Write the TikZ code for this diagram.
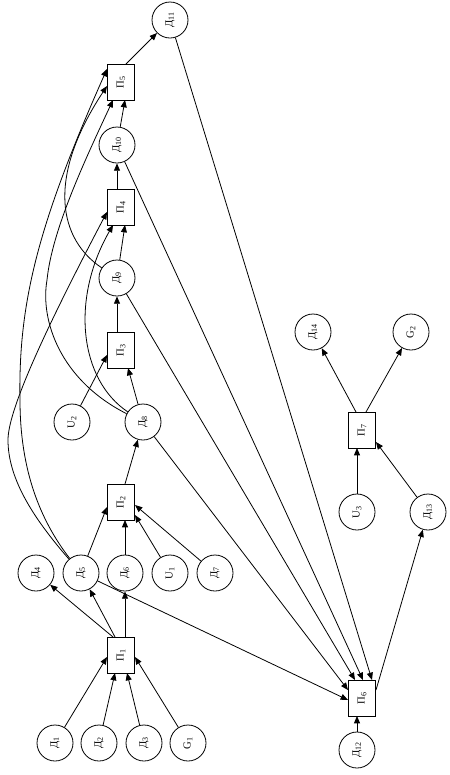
\documentclass[tikz,border=0pt]{standalone}
\usepackage{fontspec}
\setmainfont{Liberation Serif}
\usetikzlibrary{arrows.meta,calc}

\begin{document}
\begin{tikzpicture}[x=0.75pt,y=-0.75pt,>={Triangle[length=5.5pt,width=4.5pt]},line width=0.6pt,
  dnode/.style={circle,draw,minimum size=27pt,inner sep=0pt,rotate=90,font=\fontsize{8}{9}\selectfont},
  pbox/.style={rectangle,draw,minimum width=27pt,minimum height=20.25pt,inner sep=0pt,rotate=90,font=\fontsize{8}{9}\selectfont},
  link/.style={->}]

  % =====================================================================
  % Frame (keeps the 450 x 775 proportions)
  % =====================================================================
  \useasboundingbox (0,0) rectangle (450,775);

  % =====================================================================
  % LEFT CHAIN: П1 ... П5
  % =====================================================================

  % Inputs of П1
  \node[dnode] (d1) at (55,743)  {Д\textsubscript{1}};
  \node[dnode] (d2) at (99,743)  {Д\textsubscript{2}};
  \node[dnode] (d3) at (144,743) {Д\textsubscript{3}};
  \node[dnode] (g1) at (188,743) {G\textsubscript{1}};

  \node[pbox] (p1) at (121,655) {П\textsubscript{1}};

  % Outputs of П1 / inputs of П2
  \node[dnode] (d4) at (36,573)  {Д\textsubscript{4}};
  \node[dnode] (d5) at (81,573)  {Д\textsubscript{5}};
  \node[dnode] (d6) at (125,573) {Д\textsubscript{6}};
  \node[dnode] (u1) at (170,573) {U\textsubscript{1}};
  \node[dnode] (d7) at (215,573) {Д\textsubscript{7}};

  \node[pbox] (p2) at (121,502) {П\textsubscript{2}};

  \node[dnode] (u2) at (72,422)  {U\textsubscript{2}};
  \node[dnode] (d8) at (143,422) {Д\textsubscript{8}};

  \node[pbox] (p3) at (121,350) {П\textsubscript{3}};
  \node[dnode] (d9) at (117,278) {Д\textsubscript{9}};

  \node[pbox] (p4) at (121,207) {П\textsubscript{4}};
  \node[dnode] (d10) at (117,145) {Д\textsubscript{10}};

  \node[pbox] (p5) at (121,82) {П\textsubscript{5}};
  \node[dnode] (d11) at (170,20) {Д\textsubscript{11}};

  % =====================================================================
  % RIGHT CHAIN: П6, П7
  % =====================================================================
  \node[pbox] (p6) at (362,698) {П\textsubscript{6}};
  \node[dnode] (d12) at (357,750) {Д\textsubscript{12}};

  \node[dnode] (u3) at (357,512)  {U\textsubscript{3}};
  \node[dnode] (d13) at (428,512) {Д\textsubscript{13}};

  \node[pbox] (p7) at (362,430) {П\textsubscript{7}};

  \node[dnode] (d14) at (313,332) {Д\textsubscript{14}};
  \node[dnode] (g2) at (411,332)  {G\textsubscript{2}};

  % =====================================================================
  % Straight links: into a box (port offset from the box centre)
  % =====================================================================
  \foreach \a/\b/\dx/\dy in {d1/p1/-14/2, d2/p1/-6/18, d3/p1/6/18, g1/p1/14/2,
                             d5/p2/-14/5, d6/p2/4/18, u1/p2/14/13, d7/p2/14/3,
                             u2/p3/-14/5, d8/p3/7/18,
                             d9/p4/4/18, d10/p5/4/18,
                             d5/p6/-14/2, d8/p6/-14/-8, d9/p6/-7/-18,
                             d10/p6/1/-18, d11/p6/10/-18, d12/p6/-5/18,
                             u3/p7/-5/18, d13/p7/14/12}
    \draw[link] (\a) -- ($(\b)+(\dx,\dy)$);

  % Straight links: out of a box
  \foreach \a/\dx/\dy/\b in {p1/-8/-18/d4, p1/-6/-18/d5, p1/4/-18/d6,
                             p2/4/-18/d8, p3/-4/-18/d9, p4/-4/-18/d10,
                             p5/5/-18/d11, p6/14/-8/d13,
                             p7/-6/-18/d14, p7/4/-18/g2}
    \draw[link] ($(\a)+(\dx,\dy)$) -- (\b);

  % =====================================================================
  % Curved links (bending round the left side)
  % =====================================================================
  % Д5 -> П4
  \draw[link] (d5) .. controls (35,520) and (8,480) .. (8,440)
              .. controls (8,410) and (45,330) .. ($(p4)+(-14,5)$);
  % Д5 -> П5
  \draw[link] (d5) .. controls (40,520) and (20,470) .. (20,400)
              .. controls (18,300) and (40,220) .. ($(p5)+(-14,-13)$);
  % Д8 -> П4
  \draw[link] (d8) .. controls (80,380) and (70,300) .. ($(p4)+(-8,18)$);
  % Д8 -> П5
  \draw[link] (d8) .. controls (60,380) and (40,320) .. (47,280)
              .. controls (52,230) and (85,160) .. ($(p5)+(-8,18)$);
  % Д9 -> П5
  \draw[link] (d9) .. controls (60,240) and (45,180) .. ($(p5)+(-14,4)$);

\end{tikzpicture}
\end{document}
